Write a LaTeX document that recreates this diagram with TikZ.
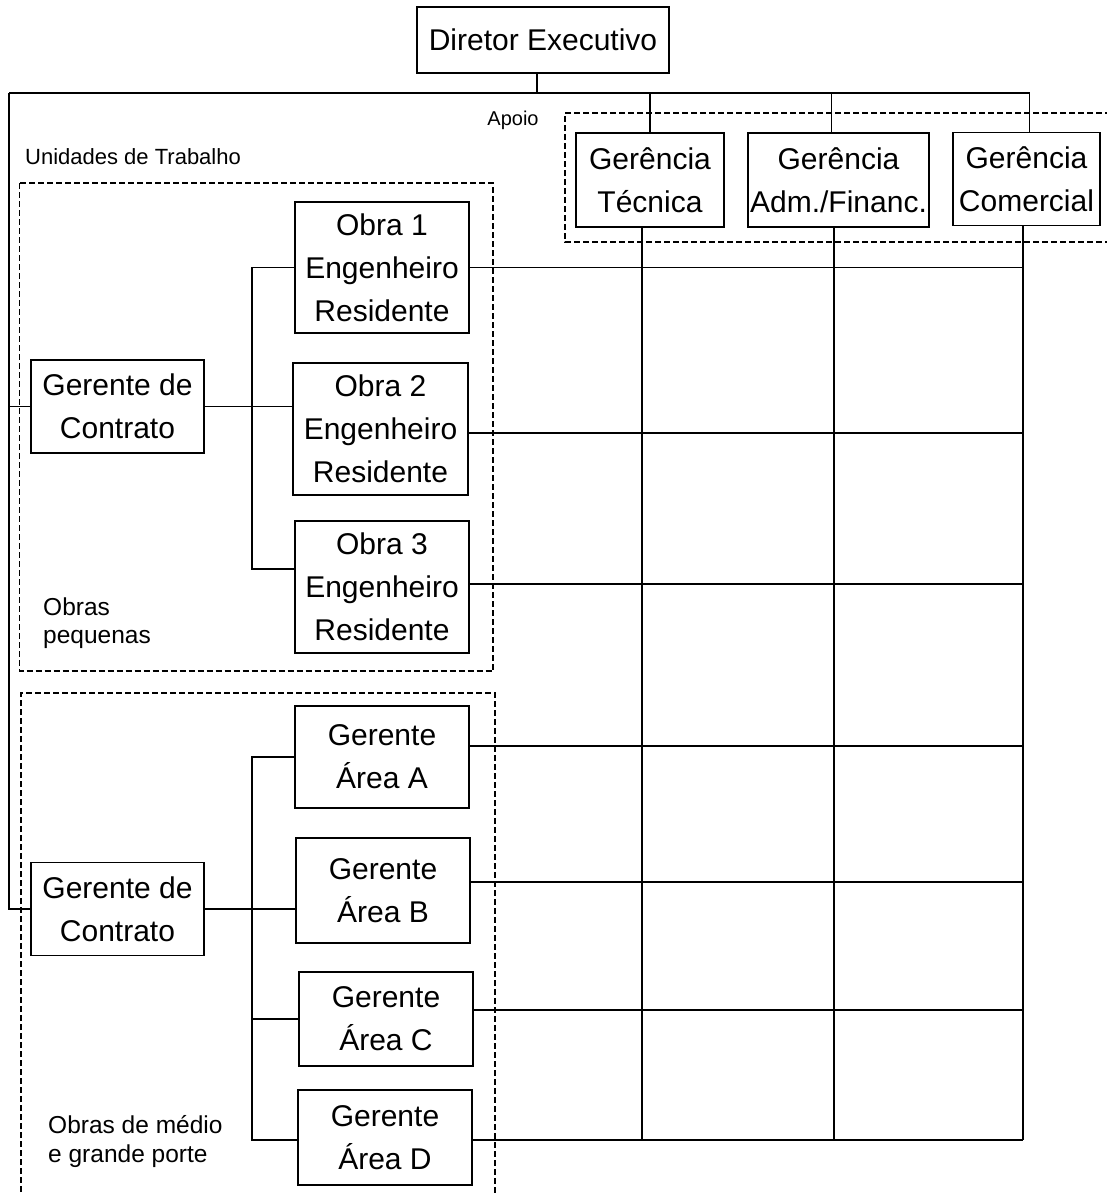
\documentclass[tikz,border=0pt]{standalone}
\usepackage{fontspec}
\setmainfont{Liberation Sans}
\begin{document}
\begin{tikzpicture}[x=1pt,y=-1pt,
  box/.style={draw, line width=1.6pt, rectangle, inner sep=0pt, align=center,
    font=\fontsize{30}{43}\selectfont},
  ln/.style={line width=1.8pt},
  dsh/.style={line width=1.3pt, dash pattern=on 6pt off 3pt},
  lbl/.style={inner sep=0pt, align=left, anchor=west}]
\useasboundingbox (0,0) rectangle (1107,1195);
\fill[white] (0,0) rectangle (1107,1195);

% dashed groups
\draw[dsh] (1120,113) -- (565,113) -- (565,242) -- (1120,242);
\draw[dsh] (19.5,183) rectangle (493,671);
\draw[dsh] (21,1210) -- (21,693) -- (495,693) -- (495,1210);

% labels
\node[lbl, font=\fontsize{22}{26}\selectfont] (unid) at (25,157) {Unidades de Trabalho};
\node[inner sep=0pt, font=\fontsize{20}{24}\selectfont] (apoio) at (513,120) {Apoio};
\node[lbl, font=\fontsize{24.5}{28}\selectfont] (peq) at (43,623) {Obras\\pequenas};
\node[lbl, font=\fontsize{24.5}{29}\selectfont] (med) at (48,1142) {Obras de médio\\e grande porte};

% boxes
\node[box, minimum width=252pt, minimum height=66pt] (dir) at (543,40) {Diretor Executivo};
\node[box, minimum width=148pt, minimum height=94pt] (tec) at (650,180) {Gerência\\Técnica};
\node[box, minimum width=181pt, minimum height=94pt] (adm) at (838.5,180) {Gerência\\Adm./Financ.};
\node[box, minimum width=147pt, minimum height=93pt] (com) at (1026.5,179) {Gerência\\Comercial};

\node[box, minimum width=173pt, minimum height=93pt] (gc1) at (117.5,406.5) {Gerente de\\Contrato};
\node[box, minimum width=174pt, minimum height=131pt] (obra1) at (382,267.5) {Obra 1\\Engenheiro\\Residente};
\node[box, minimum width=175pt, minimum height=132pt] (obra2) at (380.5,429) {Obra 2\\Engenheiro\\Residente};
\node[box, minimum width=174pt, minimum height=132pt] (obra3) at (382,587) {Obra 3\\Engenheiro\\Residente};

\node[box, minimum width=173pt, minimum height=93pt] (gc2) at (117.5,909) {Gerente de\\Contrato};
\node[box, minimum width=174pt, minimum height=102pt] (areaA) at (382,757) {Gerente\\Área A};
\node[box, minimum width=174pt, minimum height=105pt] (areaB) at (383,890.5) {Gerente\\Área B};
\node[box, minimum width=174pt, minimum height=94pt] (areaC) at (386,1019) {Gerente\\Área C};
\node[box, minimum width=174pt, minimum height=95pt] (areaD) at (385,1137.5) {Gerente\\Área D};

% helper coordinates
\coordinate (busL) at (9,93);
\coordinate (busR) at (1030,93);
\coordinate (bot) at (0,1140);
\coordinate (col) at (252,0);
\coordinate (dirS) at ([xshift=-6pt]dir.south);
\coordinate (tecT) at (tec.north);
\coordinate (admT) at ([xshift=-7pt]adm.north);
\coordinate (comT) at ([xshift=3pt]com.north);
\coordinate (tecB) at ([xshift=-8pt]tec.south);
\coordinate (admB) at ([xshift=-4.5pt]adm.south);
\coordinate (comB) at ([xshift=-3.5pt]com.south);

% top bus
\draw[ln] (dirS) -- (dirS |- busL);
\draw[ln] (busL) -- (busR);
\draw[ln] (tecT |- busL) -- (tecT);
\draw[ln] (admT |- busL) -- (admT);
\draw[ln] (comT |- busL) -- (comT);
\draw[ln] (busL) |- (gc2.west);
\draw[ln] (gc1.west -| busL) -- (gc1.west);

% vertical lines under support boxes
\draw[ln] (tecB) -- (tecB |- bot);
\draw[ln] (admB) -- (admB |- bot);
\draw[ln] (comB) -- (comB |- bot);

% first contract
\coordinate (o3L) at ([yshift=18pt]obra3.west);
\draw[ln] (obra1.west) -| (col |- o3L) -- (o3L);
\draw[ln] (gc1.east) -- (gc1.east -| obra2.west);

% second contract
\coordinate (aDL) at ([yshift=-2.5pt]areaD.west);
\draw[ln] (areaA.west) -| (col |- aDL) -- (aDL);
\draw[ln] (areaC.west -| col) -- (areaC.west);
\draw[ln] (gc2.east) -- (gc2.east -| areaB.west);

% horizontal lines to the right
\coordinate (o2R) at ([yshift=-4pt]obra2.east);
\coordinate (o3R) at ([yshift=3pt]obra3.east);
\coordinate (aAR) at ([yshift=11pt]areaA.east);
\coordinate (aBR) at ([yshift=8.5pt]areaB.east);
\coordinate (aCR) at ([yshift=9pt]areaC.east);
\coordinate (aDR) at ([yshift=-2.5pt]areaD.east);
\draw[ln] (obra1.east) -- (obra1.east -| comB);
\draw[ln] (o2R) -- (o2R -| comB);
\draw[ln] (o3R) -- (o3R -| comB);
\draw[ln] (aAR) -- (aAR -| comB);
\draw[ln] (aBR) -- (aBR -| comB);
\draw[ln] (aCR) -- (aCR -| comB);
\draw[ln] (aDR) -- (aDR -| comB);
\end{tikzpicture}
\end{document}
